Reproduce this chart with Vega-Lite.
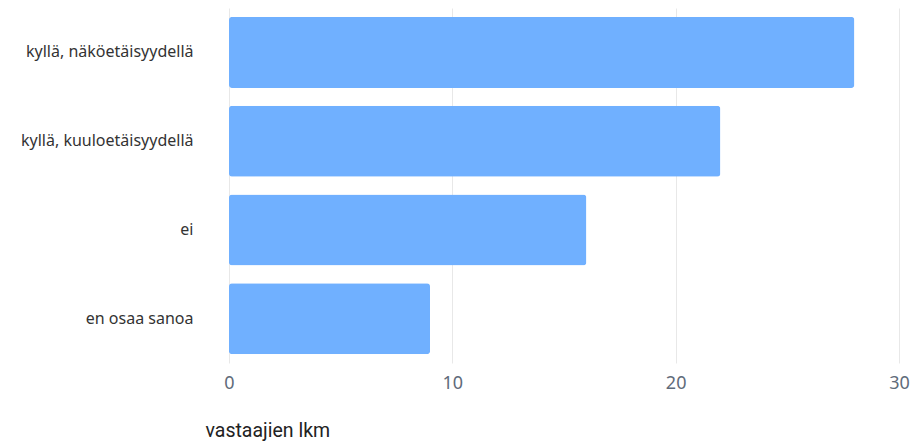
{
  "$schema": "https://vega.github.io/schema/vega-lite/v6.json",
  "autosize": "none",
  "width": 670,
  "height": 355,
  "padding": {"left": 229, "top": 8, "right": 23, "bottom": 78},
  "background": "white",
  "data": {
    "values": [
      {"vastaus": "kyllä, näköetäisyydellä", "lkm": 28},
      {"vastaus": "kyllä, kuuloetäisyydellä", "lkm": 22},
      {"vastaus": "ei", "lkm": 16},
      {"vastaus": "en osaa sanoa", "lkm": 9}
    ]
  },
  "mark": {"type": "bar", "color": "#70b0ff", "cornerRadius": 3},
  "encoding": {
    "y": {
      "field": "vastaus",
      "type": "nominal",
      "sort": null,
      "scale": {"paddingInner": 0.2, "paddingOuter": 0.1},
      "axis": {
        "title": null,
        "domain": false,
        "ticks": false,
        "grid": false,
        "labelFont": "Noto Sans",
        "labelFontSize": 16,
        "labelColor": "#333333",
        "labelPadding": 36
      }
    },
    "x": {
      "field": "lkm",
      "type": "quantitative",
      "scale": {"domain": [0, 30], "nice": false},
      "axis": {
        "values": [0, 10, 20, 30],
        "domain": false,
        "ticks": false,
        "grid": true,
        "gridColor": "#e8e8e8",
        "labelFlush": false,
        "labelFont": "Noto Sans",
        "labelFontSize": 18,
        "labelColor": "#5f6b7a",
        "labelPadding": 11,
        "title": "vastaajien lkm",
        "titleFont": "Roboto",
        "titleFontSize": 19.5,
        "titleFontWeight": "normal",
        "titleColor": "#222222",
        "titleAlign": "left",
        "titleAnchor": "start",
        "titleX": -24,
        "titleY": 73,
        "titleBaseline": "alphabetic"
      }
    }
  },
  "config": {"view": {"stroke": null}}
}
